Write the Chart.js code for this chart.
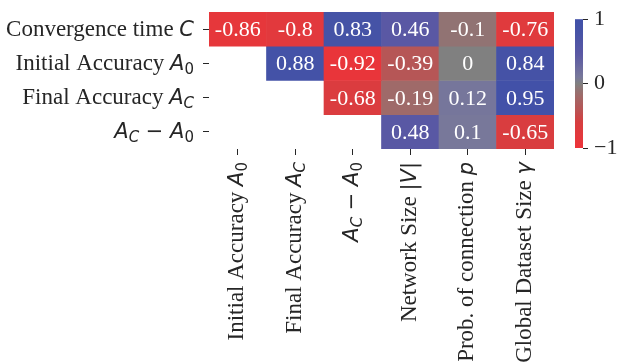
<!DOCTYPE html>
<html>
<head>
<meta charset="utf-8">
<script src="https://cdn.jsdelivr.net/npm/chart.js@4.4.0/dist/chart.umd.min.js"></script>
<style>
  html, body { margin: 0; padding: 0; background: #fff; }
  #wrap { position: relative; width: 619px; height: 364px; }
  #wrap canvas { position: absolute; left: 0; top: 0; }
</style>
</head>
<body>
<div id="wrap">
  <canvas id="heat" width="619" height="364"></canvas>
  <canvas id="cbar" width="619" height="364"></canvas>
</div>
<script>
// rows / columns of the correlation matrix ($...$ = math part)
const rowLabels = ['Convergence time $C$', 'Initial Accuracy $A_0$', 'Final Accuracy $A_C$', '$A_C - A_0$'];
const colLabels = ['Initial Accuracy $A_0$', 'Final Accuracy $A_C$', '$A_C - A_0$',
  'Network Size $|V|$', 'Prob. of connection $p$', 'Global Dataset Size $γ$'];

const convergenceRow = [-0.86, -0.8, 0.83, 0.46, -0.1, -0.76];
const initialAccRow  = [null, 0.88, -0.92, -0.39, 0, 0.84];
const finalAccRow    = [null, null, -0.68, -0.19, 0.12, 0.95];
const accGainRow     = [null, null, null, 0.48, 0.1, -0.65];
const matrix = [convergenceRow, initialAccRow, finalAccRow, accGainRow];

const cbTicks = [-1, 0, 1];

// red - grey - blue diverging map
const cmapStops = [
  [-1, [238, 51, 57]],
  [-0.6, [214, 62, 64]],
  [-0.39, [182, 86, 86]],
  [-0.19, [159, 106, 105]],
  [-0.1, [145, 115, 115]],
  [0, [128, 128, 128]],
  [0.1, [120, 120, 154]],
  [0.46, [90, 88, 164]],
  [0.8, [70, 83, 166]],
  [1, [64, 80, 168]]
];
function cmap(v) {
  for (let i = 1; i < cmapStops.length; i++) {
    const [v1, c1] = cmapStops[i];
    if (v <= v1) {
      const [v0, c0] = cmapStops[i - 1];
      const t = (v - v0) / (v1 - v0);
      const c = c0.map((a, k) => Math.round(a + (c1[k] - a) * t));
      return `rgb(${c[0]},${c[1]},${c[2]})`;
    }
  }
  const c = cmapStops[cmapStops.length - 1][1];
  return `rgb(${c[0]},${c[1]},${c[2]})`;
}

const SERIF = '"Liberation Serif", "Times New Roman", serif';
const MATH = '"DejaVu Sans", sans-serif';
const FS = 22;      // cell values, colour bar
const LFS = 23;     // axis labels
const INK = '#262626';

function parseLabel(s) {
  const runs = [];
  s.split('$').forEach((part, k) => {
    if (k % 2 === 0) {
      if (part) runs.push({ t: part, font: LFS + 'px ' + SERIF, dy: 0 });
      return;
    }
    for (let i = 0; i < part.length; i++) {
      let ch = part[i];
      let sub = false;
      if (ch === '_') { sub = true; ch = part[++i]; }
      if (ch === '-') ch = '\u2212';
      const italic = /[A-Za-z\u03b1-\u03c9]/.test(ch);
      const size = sub ? 15 : 21;
      runs.push({ t: ch, font: (italic ? 'italic ' : '') + size + 'px ' + MATH, dy: sub ? 4 : 0 });
    }
  });
  return runs;
}

function drawRuns(ctx, runs, xRight, y) {
  const widths = runs.map(r => { ctx.font = r.font; return ctx.measureText(r.t).width; });
  let x = xRight - widths.reduce((a, b) => a + b, 0);
  runs.forEach((r, i) => {
    ctx.font = r.font;
    ctx.fillText(r.t, x, y + r.dy);
    x += widths[i];
  });
}

const labelPlugin = {
  id: 'heatLabels',
  afterDatasetsDraw(chart) {
    const ctx = chart.ctx;
    ctx.save();
    ctx.fillStyle = '#fff';
    ctx.font = FS + 'px ' + SERIF;
    ctx.textAlign = 'center';
    ctx.textBaseline = 'alphabetic';
    chart.data.datasets.forEach((ds, di) => {
      chart.getDatasetMeta(di).data.forEach((el, j) => {
        const v = matrix[di][j];
        if (v === null) return;
        ctx.fillText(String(v), el.x, (el.y + el.base) / 2 + 7);
      });
    });
    ctx.restore();
  },
  afterDraw(chart) {
    const ctx = chart.ctx;
    const area = chart.chartArea;
    const xs = chart.scales.x, ys = chart.scales.y;
    ctx.save();
    ctx.fillStyle = INK;
    ctx.textAlign = 'left';
    ctx.textBaseline = 'alphabetic';
    rowLabels.forEach((lab, i) => {
      drawRuns(ctx, parseLabel(lab), area.left - 15, ys.getPixelForTick(i) + 6.5);
    });
    colLabels.forEach((lab, i) => {
      ctx.save();
      ctx.translate(xs.getPixelForTick(i), area.bottom + 13);
      ctx.rotate(-Math.PI / 2);
      drawRuns(ctx, parseLabel(lab), 0, 5.5);
      ctx.restore();
    });
    ctx.restore();
  }
};

new Chart(document.getElementById('heat'), {
  type: 'bar',
  data: {
    labels: colLabels,
    datasets: matrix.map((vals, i) => ({
      label: rowLabels[i],
      data: vals.map(v => (v === null ? null : [i, i + 1])),
      backgroundColor: vals.map(v => (v === null ? 'rgba(0,0,0,0)' : cmap(v))),
      borderWidth: 0,
      grouped: false,
      barPercentage: 1,
      categoryPercentage: 1
    }))
  },
  options: {
    responsive: false,
    animation: false,
    events: [],
    layout: { padding: { left: 203, right: 65, top: 12, bottom: 209 } },
    plugins: { legend: { display: false }, tooltip: { enabled: false } },
    scales: {
      x: {
        type: 'category',
        offset: true,
        grid: { offset: false, drawOnChartArea: false, tickLength: 6, color: INK },
        border: { display: false },
        ticks: { display: false },
        afterFit: s => { s.height = 6; }
      },
      y: {
        type: 'linear',
        min: 0,
        max: 4,
        reverse: true,
        grid: { drawOnChartArea: false, tickLength: 6, color: INK },
        border: { display: false },
        ticks: { display: false },
        afterBuildTicks: s => { s.ticks = rowLabels.map((_, i) => ({ value: i + 0.5 })); },
        afterFit: s => { s.width = 6; }
      }
    }
  },
  plugins: [labelPlugin]
});

// colour bar
const barPlugin = {
  id: 'colorbar',
  beforeDatasetsDraw(chart) {
    const ctx = chart.ctx;
    const area = chart.chartArea;
    const ys = chart.scales.y;
    const g = ctx.createLinearGradient(0, ys.getPixelForValue(-1), 0, ys.getPixelForValue(1));
    for (let k = 0; k <= 40; k++) {
      const v = -1 + k / 20;
      g.addColorStop(k / 40, cmap(v));
    }
    ctx.save();
    ctx.fillStyle = g;
    ctx.fillRect(area.left, area.top, area.right - area.left, area.bottom - area.top);
    ctx.restore();
  }
};

new Chart(document.getElementById('cbar'), {
  type: 'bar',
  data: { labels: [''], datasets: [] },
  options: {
    responsive: false,
    animation: false,
    events: [],
    layout: { padding: { left: 575, right: 0, top: 12, bottom: 216 } },
    plugins: { legend: { display: false }, tooltip: { enabled: false } },
    scales: {
      x: { display: false },
      y: {
        position: 'right',
        min: -1,
        max: 1,
        grid: { drawOnChartArea: false, tickLength: 5, color: INK },
        border: { display: false },
        ticks: {
          color: INK,
          padding: 6,
          font: { family: SERIF, size: FS },
          callback: v => (v < 0 ? '\u2212' + Math.abs(v) : String(v))
        },
        afterBuildTicks: s => { s.ticks = cbTicks.map(v => ({ value: v })); },
        afterFit: s => { s.width = 36; }
      }
    }
  },
  plugins: [barPlugin]
});
</script>
</body>
</html>
